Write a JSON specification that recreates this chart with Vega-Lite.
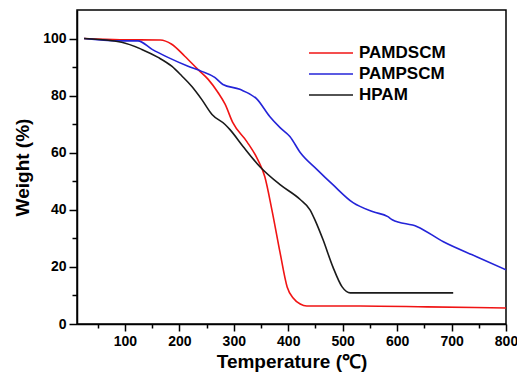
{
  "$schema": "https://vega.github.io/schema/vega-lite/v6.json",
  "width": 429,
  "height": 314,
  "autosize": "none",
  "padding": {"left": 77, "top": 10, "right": 11, "bottom": 54},
  "config": {
    "font": "Liberation Sans",
    "view": {"stroke": "#000000", "strokeWidth": 1.5},
    "axis": {
      "domainColor": "#000000", "domainWidth": 1.5,
      "tickColor": "#000000", "tickWidth": 1.5,
      "labelFont": "Liberation Sans", "labelFontWeight": "bold", "labelFontSize": 14, "labelColor": "#000000",
      "titleFont": "Liberation Sans", "titleFontWeight": "bold", "titleFontSize": 19, "titleColor": "#000000",
      "grid": false
    }
  },
  "data": {"values": [
    {"s": "PAMDSCM", "t": 25, "w": 100},
    {"s": "PAMDSCM", "t": 91, "w": 99.6},
    {"s": "PAMDSCM", "t": 165, "w": 99.5},
    {"s": "PAMDSCM", "t": 186, "w": 98.0},
    {"s": "PAMDSCM", "t": 210, "w": 93.8},
    {"s": "PAMDSCM", "t": 234, "w": 89.2},
    {"s": "PAMDSCM", "t": 253, "w": 85.7},
    {"s": "PAMDSCM", "t": 271, "w": 81.1},
    {"s": "PAMDSCM", "t": 284, "w": 77},
    {"s": "PAMDSCM", "t": 298, "w": 70.6},
    {"s": "PAMDSCM", "t": 324, "w": 63.9},
    {"s": "PAMDSCM", "t": 344, "w": 57.6},
    {"s": "PAMDSCM", "t": 357, "w": 51.6},
    {"s": "PAMDSCM", "t": 370, "w": 40},
    {"s": "PAMDSCM", "t": 385, "w": 25},
    {"s": "PAMDSCM", "t": 398, "w": 13},
    {"s": "PAMDSCM", "t": 409, "w": 9.1},
    {"s": "PAMDSCM", "t": 422, "w": 7},
    {"s": "PAMDSCM", "t": 434, "w": 6.3},
    {"s": "PAMDSCM", "t": 532, "w": 6.3},
    {"s": "PAMDSCM", "t": 655, "w": 6.0},
    {"s": "PAMDSCM", "t": 800, "w": 5.6},
    {"s": "PAMPSCM", "t": 25, "w": 100},
    {"s": "PAMPSCM", "t": 87, "w": 99.2},
    {"s": "PAMPSCM", "t": 124, "w": 99.2},
    {"s": "PAMPSCM", "t": 150, "w": 96.2},
    {"s": "PAMPSCM", "t": 179, "w": 93.4},
    {"s": "PAMPSCM", "t": 216, "w": 90.3},
    {"s": "PAMPSCM", "t": 241, "w": 88.5},
    {"s": "PAMPSCM", "t": 265, "w": 86.4},
    {"s": "PAMPSCM", "t": 280, "w": 83.9},
    {"s": "PAMPSCM", "t": 311, "w": 82.2},
    {"s": "PAMPSCM", "t": 343, "w": 78.7},
    {"s": "PAMPSCM", "t": 366, "w": 72.7},
    {"s": "PAMPSCM", "t": 385, "w": 68.8},
    {"s": "PAMPSCM", "t": 403, "w": 65.7},
    {"s": "PAMPSCM", "t": 422, "w": 60.1},
    {"s": "PAMPSCM", "t": 453, "w": 54.1},
    {"s": "PAMPSCM", "t": 482, "w": 48.8},
    {"s": "PAMPSCM", "t": 519, "w": 42.5},
    {"s": "PAMPSCM", "t": 556, "w": 39.3},
    {"s": "PAMPSCM", "t": 583, "w": 37.6},
    {"s": "PAMPSCM", "t": 591, "w": 36.5},
    {"s": "PAMPSCM", "t": 637, "w": 34.1},
    {"s": "PAMPSCM", "t": 685, "w": 28.8},
    {"s": "PAMPSCM", "t": 747, "w": 23.5},
    {"s": "PAMPSCM", "t": 800, "w": 19},
    {"s": "HPAM", "t": 25, "w": 100},
    {"s": "HPAM", "t": 94, "w": 98.7},
    {"s": "HPAM", "t": 131, "w": 96.2},
    {"s": "HPAM", "t": 161, "w": 93.4},
    {"s": "HPAM", "t": 186, "w": 90.3},
    {"s": "HPAM", "t": 205, "w": 86.8},
    {"s": "HPAM", "t": 223, "w": 83.2},
    {"s": "HPAM", "t": 241, "w": 78.7},
    {"s": "HPAM", "t": 260, "w": 73.4},
    {"s": "HPAM", "t": 284, "w": 69.9},
    {"s": "HPAM", "t": 293, "w": 68.1},
    {"s": "HPAM", "t": 317, "w": 62.2},
    {"s": "HPAM", "t": 348, "w": 55.1},
    {"s": "HPAM", "t": 385, "w": 48.8},
    {"s": "HPAM", "t": 422, "w": 43.6},
    {"s": "HPAM", "t": 440, "w": 40},
    {"s": "HPAM", "t": 449, "w": 36.5},
    {"s": "HPAM", "t": 464, "w": 29.5},
    {"s": "HPAM", "t": 482, "w": 20},
    {"s": "HPAM", "t": 499, "w": 13},
    {"s": "HPAM", "t": 514, "w": 10.9},
    {"s": "HPAM", "t": 593, "w": 10.9},
    {"s": "HPAM", "t": 703, "w": 10.9}
  ]},
  "mark": {"type": "line", "strokeWidth": 1.6, "clip": true, "interpolate": "monotone"},
  "encoding": {
    "x": {
      "field": "t", "type": "quantitative",
      "scale": {"domain": [12, 800], "nice": false, "zero": false},
      "axis": {
        "title": "Temperature (℃)",
        "values": [50, 100, 150, 200, 250, 300, 350, 400, 450, 500, 550, 600, 650, 700, 750, 800],
        "labelExpr": "datum.value % 100 === 0 ? datum.label : ''",
        "tickSize": {"condition": {"test": "datum.value % 100 === 0", "value": 7}, "value": 4},
        "labelPadding": 3,
        "labelFlush": false,
        "labelOverlap": false,
        "titlePadding": 4
      }
    },
    "y": {
      "field": "w", "type": "quantitative",
      "scale": {"domain": [0, 110], "nice": false},
      "axis": {
        "title": "Weight (%)",
        "values": [0, 10, 20, 30, 40, 50, 60, 70, 80, 90, 100],
        "labelExpr": "datum.value % 20 === 0 ? datum.label : ''",
        "tickSize": {"condition": {"test": "datum.value % 20 === 0", "value": 8}, "value": 5},
        "labelPadding": 3,
        "labelFlush": false,
        "labelOverlap": false,
        "titlePadding": 10
      }
    },
    "color": {
      "field": "s", "type": "nominal",
      "scale": {"domain": ["PAMDSCM", "PAMPSCM", "HPAM"], "range": ["#f01414", "#2424d8", "#1a1a1a"]},
      "legend": {
        "title": null,
        "orient": "none",
        "legendX": 242,
        "legendY": 31,
        "padding": 0,
        "symbolType": "M-2,0H2",
        "symbolSize": 484,
        "symbolStrokeWidth": 1.6,
        "labelOffset": 16,
        "labelFontSize": 17,
        "labelColor": "#000000",
        "rowPadding": 1,
        "encode": {"labels": {
          "enter": {"fontWeight": {"value": 700}, "font": {"value": "Liberation Sans"}},
          "update": {"fontWeight": {"value": 700}, "font": {"value": "Liberation Sans"}}
        }}
      }
    }
  }
}
